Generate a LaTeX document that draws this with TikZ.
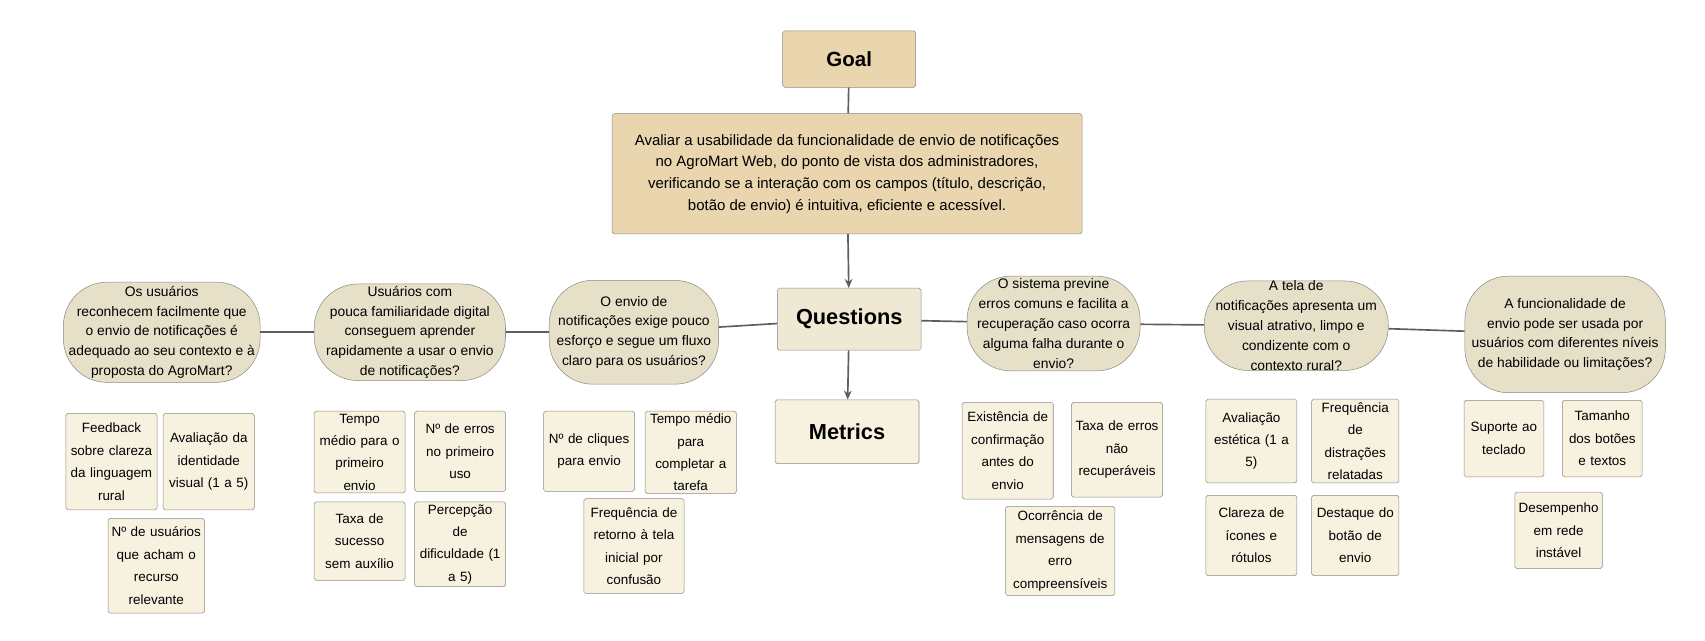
\documentclass[tikz,border=0pt]{standalone}
\usepackage{fontspec}
\setmainfont{Liberation Sans}
\usetikzlibrary{arrows.meta,shapes.misc,positioning}
\definecolor{goalfill}{HTML}{E9D5AE}
\definecolor{qfill}{HTML}{E7E0C9}
\definecolor{hubfill}{HTML}{EFE8D3}
\definecolor{mfill}{HTML}{F7F2DF}
\definecolor{edgegray}{HTML}{8C8A80}
\definecolor{linegray}{HTML}{5E5E5E}
\begin{document}
\begin{tikzpicture}[x=0.03cm,y=-0.03cm,
    box/.style={draw=edgegray,rounded corners=1.5pt,align=center,inner sep=2pt},
    headbox/.style={box,fill=hubfill,font=\fontsize{17}{19}\selectfont\bfseries,minimum width=3.95cm,minimum height=1.75cm},
    question/.style={rectangle,rounded corners=1.2cm,draw=edgegray,fill=qfill,align=center,inner sep=0pt,
                     font=\fontsize{10.8}{15.5}\selectfont},
    metric/.style={box,fill=mfill,anchor=north,font=\fontsize{10.5}{17.5}\selectfont,
                   text width=2.3cm,minimum width=2.5cm},
    link/.style={draw=linegray,line width=1.3pt},
    arrow/.style={link,-{Stealth[length=7pt,width=6pt]}}]
  \useasboundingbox (0,0) rectangle (1560,586);

  % goal
  \node[box,fill=goalfill,font=\fontsize{16}{18}\selectfont\bfseries,minimum width=3.65cm,minimum height=1.55cm] (goal) at (777,54) {Goal};
  \node[box,fill=goalfill,font=\fontsize{11.7}{17}\selectfont,minimum width=12.9cm,minimum height=3.3cm] (goaltext) at (775,159)
    {Avaliar a usabilidade da funcionalidade de envio de notificações\\
     no AgroMart Web, do ponto de vista dos administradores,\\
     verificando se a interação com os campos (título, descrição,\\
     botão de envio) é intuitiva, eficiente e acessível.};
  \node[headbox,minimum height=1.7cm] (questions) at (777,292) {Questions};
  \node[headbox,fill=mfill] (metrics) at (775,395) {Metrics};

  % questions
  \node[question,minimum width=5.4cm,minimum height=2.75cm] (q1) at (148,304)
    {Os usuários\\reconhecem facilmente que\\o envio de notificações é\\adequado ao seu contexto e à\\proposta do AgroMart?};
  \node[question,minimum width=5.25cm,minimum height=2.65cm] (q2) at (375,304)
    {Usuários com\\pouca familiaridade digital\\conseguem aprender\\rapidamente a usar o envio\\de notificações?};
  \node[question,minimum width=4.65cm,minimum height=2.85cm] (q3) at (580,304)
    {O envio de\\notificações exige pouco\\esforço e segue um fluxo\\claro para os usuários?};
  \node[question,minimum width=4.75cm,minimum height=2.6cm] (q4) at (964,296)
    {O sistema previne\\erros comuns e facilita a\\recuperação caso ocorra\\alguma falha durante o\\envio?};
  \node[question,minimum width=5.05cm,minimum height=2.45cm] (q5) at (1186,298)
    {A tela de\\notificações apresenta um\\visual atrativo, limpo e\\condizente com o\\contexto rural?};
  \node[question,minimum width=5.5cm,minimum height=3.2cm] (q6) at (1432,306)
    {A funcionalidade de\\envio pode ser usada por\\usuários com diferentes níveis\\de habilidade ou limitações?};

  \draw[link] (goal) -- (goaltext);
  \draw[arrow] (goaltext) -- (questions);
  \draw[arrow] (questions) -- (metrics);
  \draw[link] (q1) -- (q2);
  \draw[link] (q2) -- (q3);
  \draw[link] (q3) -- (questions);
  \draw[link] (questions) -- (q4);
  \draw[link] (q4) -- (q5);
  \draw[link] (q5) -- (q6);

  % metrics of q1
  \node[metric,minimum height=2.65cm] (m11) at (102,378) {Feedback\\sobre clareza\\da linguagem\\rural};
  \node[metric,minimum height=2.65cm] (m12) at (191,378) {Avaliação da\\identidade\\visual (1 a 5)};
  \node[metric,text width=2.5cm,minimum width=2.65cm,minimum height=2.6cm] (m13) at (143,474) {Nº de usuários\\que acham o\\recurso\\relevante};
  % metrics of q2
  \node[metric,minimum height=2.2cm] (m21) at (329,376) {Tempo\\médio para o\\primeiro\\envio};
  \node[metric,minimum height=2.2cm] (m22) at (421,376) {Nº de erros\\no primeiro\\uso};
  \node[metric,minimum height=2.15cm] (m23) at (329,459) {Taxa de\\sucesso\\sem auxílio};
  \node[metric,minimum height=2.2cm] (m24) at (421,459) {Percepção\\de\\dificuldade (1\\a 5)};
  % metrics of q3
  \node[metric,minimum height=2.2cm] (m31) at (539,376) {Nº de cliques\\para envio};
  \node[metric,minimum height=2.2cm] (m32) at (632,376) {Tempo médio\\para\\completar a\\tarefa};
  \node[metric,text width=2.6cm,minimum width=2.75cm,minimum height=2.6cm] (m33) at (580,456) {Frequência de\\retorno à tela\\inicial por\\confusão};
  % metrics of q4
  \node[metric,minimum height=2.65cm] (m41) at (922,368) {Existência de\\confirmação\\antes do\\envio};
  \node[metric,minimum height=2.6cm] (m42) at (1022,368) {Taxa de erros\\não\\recuperáveis};
  \node[metric,text width=2.85cm,minimum width=3cm,minimum height=2.45cm] (m43) at (970,463) {Ocorrência de\\mensagens de\\erro\\compreensíveis};
  % metrics of q5
  \node[metric,minimum height=2.3cm] (m51) at (1145,365) {Avaliação\\estética (1 a\\5)};
  \node[metric,text width=2.25cm,minimum width=2.4cm,minimum height=2.3cm] (m52) at (1240,365) {Frequência\\de\\distrações\\relatadas};
  \node[metric,minimum height=2.2cm] (m53) at (1145,453) {Clareza de\\ícones e\\rótulos};
  \node[metric,text width=2.25cm,minimum width=2.4cm,minimum height=2.2cm] (m54) at (1240,453) {Destaque do\\botão de\\envio};
  % metrics of q6
  \node[metric,text width=2.05cm,minimum width=2.15cm,minimum height=2.1cm] (m61) at (1376,366) {Suporte ao\\teclado};
  \node[metric,text width=2.05cm,minimum width=2.15cm,minimum height=2.1cm] (m62) at (1466,366) {Tamanho\\dos botões\\e textos};
  \node[metric,minimum width=2.4cm,text width=2.25cm,minimum height=2.1cm] (m63) at (1426,450) {Desempenho\\em rede\\instável};
\end{tikzpicture}
\end{document}
